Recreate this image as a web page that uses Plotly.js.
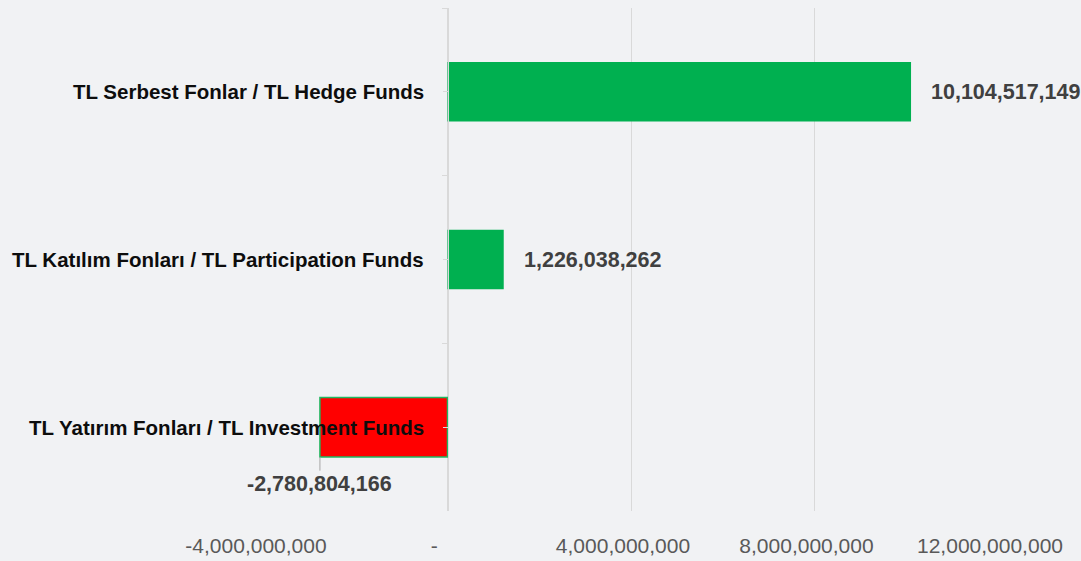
<!DOCTYPE html>
<html>
<head>
<meta charset="utf-8">
<script src="https://cdn.plot.ly/plotly-3.0.1.min.js"></script>
<style>
  html, body { margin: 0; padding: 0; background: #f1f2f4; }
  #chart { width: 1081px; height: 561px; }
</style>
</head>
<body>
<div id="chart"></div>
<script>
// ---- Data ----
const categories = [
  "TL Serbest Fonlar / TL Hedge Funds",
  "TL Katılım Fonları / TL Participation Funds",
  "TL Yatırım Fonları / TL Investment Funds"
];
const values = [10104517149, 1226038262, -2780804166];
const tickValues = [-4000000000, 0, 4000000000, 8000000000, 12000000000];
const tickLabels = ["-4,000,000,000", "-\u2002", "4,000,000,000", "8,000,000,000", "12,000,000,000"];

// ---- Styles ----
const GREEN = "#00b050";
const RED = "#ff0000";
const BORDER = "#20b860";
const fmt = v => v.toLocaleString("en-US");
const FONT = "Liberation Sans, Arial, sans-serif";

const barColors = values.map(v => v >= 0 ? GREEN : RED);
const barLineWidths = values.map(v => v >= 0 ? 0 : 1.5);

const trace = {
  type: "bar",
  orientation: "h",
  x: values,
  y: categories,
  marker: { color: barColors, line: { color: BORDER, width: barLineWidths } },
  hoverinfo: "skip"
};

// invisible companion trace so the second (center-tick) axis knows the categories
const tickTrace = {
  type: "bar",
  orientation: "h",
  x: values,
  y: categories,
  yaxis: "y2",
  opacity: 0,
  hoverinfo: "skip"
};

const annotations = [];
categories.forEach((c, i) => {
  annotations.push({
    x: 0, y: c, xref: "x", yref: "y",
    text: c, showarrow: false,
    xanchor: "right", yanchor: "middle", xshift: -22,
    font: { family: FONT, size: 20.5, color: "#0d0d0d", weight: "bold" }
  });
  const v = values[i];
  if (v >= 0) {
    annotations.push({
      x: v, y: c, xref: "x", yref: "y",
      text: "<b>" + fmt(v) + "</b>", showarrow: false,
      xanchor: "left", yanchor: "middle", xshift: 18,
      font: { family: FONT, size: 21.5, color: "#404040" }
    });
  } else {
    annotations.push({
      x: v, y: c, xref: "x", yref: "y",
      text: "<b>" + fmt(v) + "</b>", showarrow: true,
      arrowhead: 0, arrowwidth: 1, arrowcolor: "#a6a6a6",
      ax: 0, ay: 57, standoff: 30,
      font: { family: FONT, size: 21.5, color: "#404040" }
    });
  }
});

const layout = {
  width: 1081, height: 561,
  margin: { l: 264, r: 83, t: 7.5, b: 49.5 },
  paper_bgcolor: "#f1f2f4",
  plot_bgcolor: "rgba(0,0,0,0)",
  showlegend: false,
  bargap: 0.645,
  barmode: "group",
  xaxis: {
    range: [-4000000000, 12000000000],
    tickmode: "array",
    tickvals: tickValues,
    ticktext: tickLabels,
    showgrid: true, gridcolor: "#d9d9d9", gridwidth: 1,
    zeroline: false, showline: false, ticks: "",
    ticklabelshift: -8,
    ticklabelstandoff: 20,
    tickfont: { family: FONT, size: 21, color: "#595959" },
    fixedrange: true
  },
  yaxis: {
    type: "category",
    autorange: "reversed",
    anchor: "free",
    position: 0.25,
    showticklabels: false,
    showline: true, linecolor: "#d9d9d9", linewidth: 1,
    ticks: "outside", tickson: "boundaries", ticklen: 6, tickcolor: "#d9d9d9",
    showgrid: false, zeroline: false,
    fixedrange: true
  },
  yaxis2: {
    type: "category",
    matches: "y",
    overlaying: "y",
    anchor: "free",
    position: 0.25,
    showticklabels: false,
    showline: false,
    ticks: "outside", tickson: "labels", ticklen: 5, tickcolor: "#d9d9d9",
    showgrid: false, zeroline: false,
    fixedrange: true
  },
  annotations: annotations
};

Plotly.newPlot("chart", [tickTrace, trace], layout, { displayModeBar: false, staticPlot: true });
</script>
</body>
</html>
